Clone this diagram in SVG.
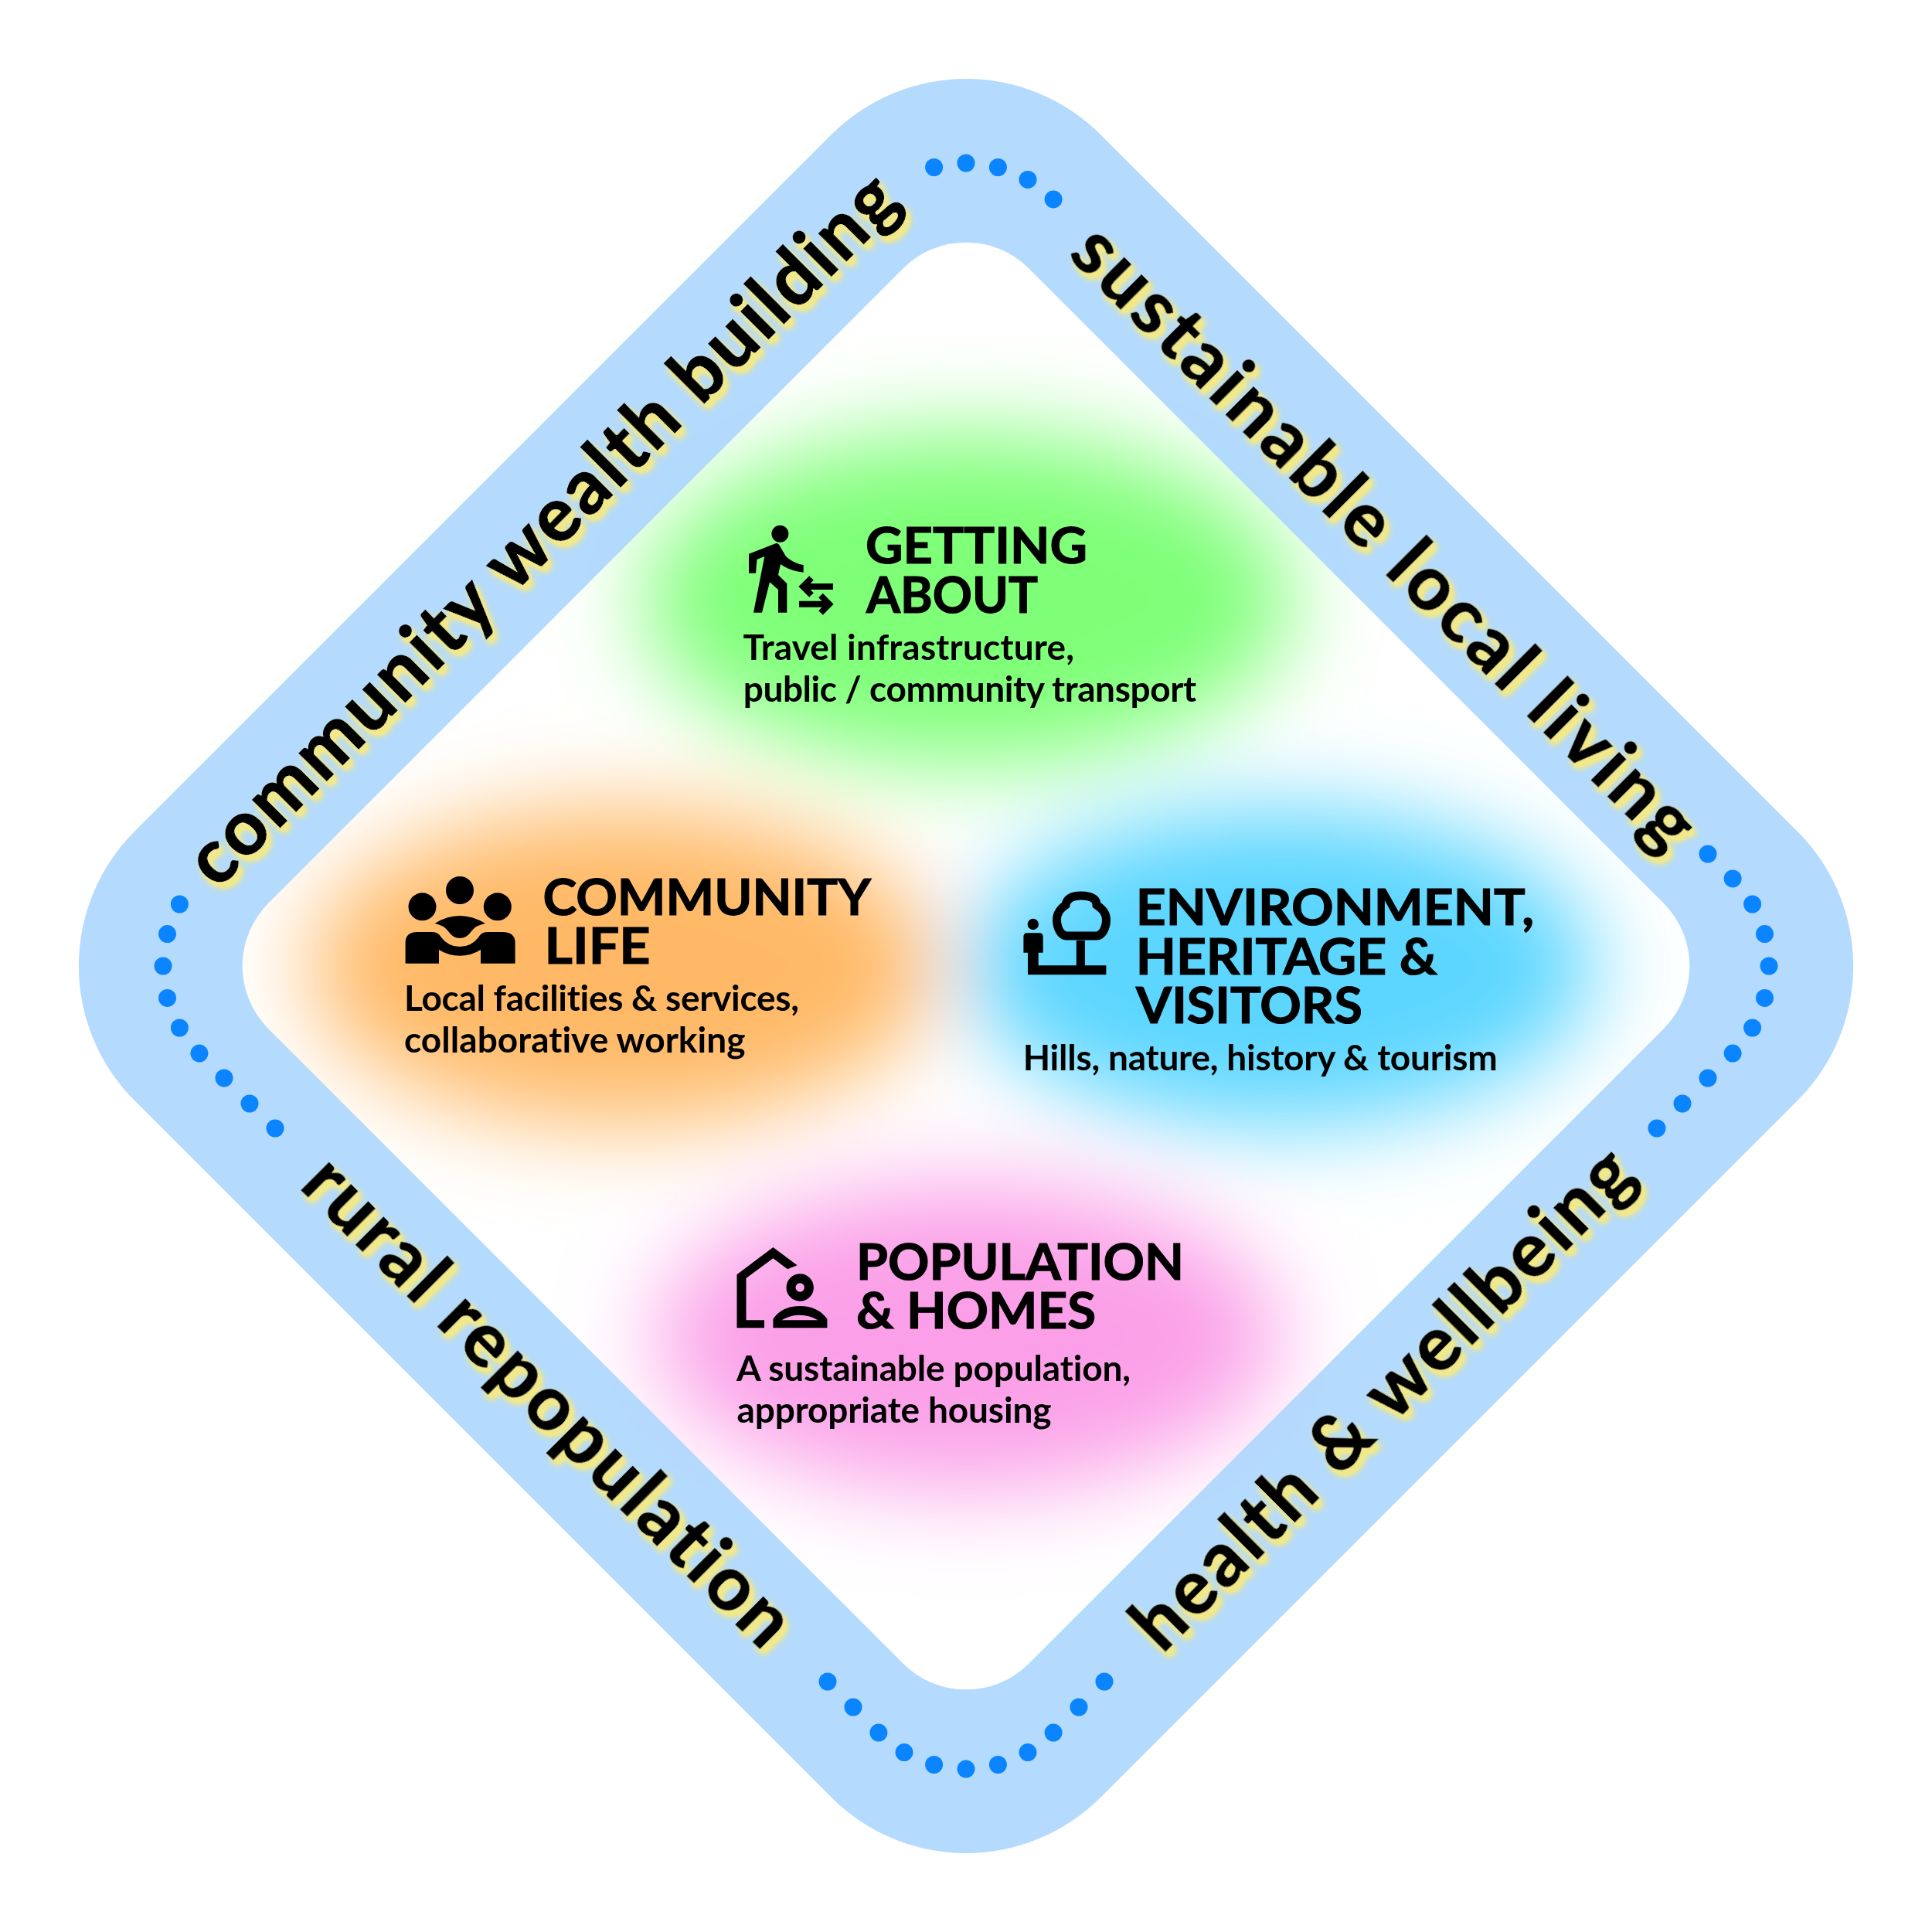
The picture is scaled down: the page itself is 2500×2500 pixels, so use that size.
<svg xmlns="http://www.w3.org/2000/svg" width="2500" height="2500" viewBox="0 0 2500 2500">
<style>
.h{font-family:"Lato","Liberation Sans",sans-serif;font-weight:700;font-size:65px;fill:#000;stroke:#000;stroke-width:1.2}
.b{font-family:"Lato","Liberation Sans",sans-serif;font-weight:700;font-size:46px;fill:#000;font-variant-ligatures:none}
.t{font-family:"Lato","Liberation Sans",sans-serif;font-weight:700;font-size:98px;fill:#000;stroke:#000;stroke-width:1.5;font-variant-ligatures:none}
.d{fill:#0a84ff}
</style>
<defs>
<filter id="blur" x="-40%" y="-60%" width="180%" height="220%"><feGaussianBlur stdDeviation="60"/></filter>
<filter id="glow" x="-5%" y="-5%" width="110%" height="110%">
<feGaussianBlur in="SourceAlpha" stdDeviation="5"/><feOffset dx="5" dy="7"/>
<feComponentTransfer result="a"><feFuncA type="linear" slope="1.8"/></feComponentTransfer>
<feFlood flood-color="#f0e88a"/><feComposite in2="a" operator="in"/>
<feMerge><feMergeNode/><feMergeNode in="SourceGraphic"/></feMerge>
</filter>
</defs>
<rect width="2500" height="2500" fill="#fff"/>
<g id="blobs" filter="url(#blur)">
<ellipse cx="1252" cy="775" rx="420" ry="215" fill="#7fff78"/>
<ellipse cx="805" cy="1251" rx="405" ry="205" fill="#ffb966"/>
<ellipse cx="1658" cy="1251" rx="405" ry="205" fill="#5bd6ff"/>
<ellipse cx="1252" cy="1730" rx="405" ry="198" fill="#fba0e8"/>
</g>
<path id="band" fill="#acd6fd" fill-opacity=".9" fill-rule="evenodd" d="M1076 174A246 246 0 0 1 1424 174L2326 1076A246 246 0 0 1 2326 1424L1424 2326A246 246 0 0 1 1076 2326L174 1424A246 246 0 0 1 174 1076ZM1169 347L347 1169A115 115 0 0 0 347 1331L1169 2153A115 115 0 0 0 1331 2153L2153 1331A115 115 0 0 0 2153 1169L1331 347A115 115 0 0 0 1169 347Z"/>
<g id="dots" class="d">
<circle cx="1208.6" cy="216.5" r="11.5"/><circle cx="1250" cy="211" r="11.5"/><circle cx="1291.4" cy="216.5" r="11.5"/><circle cx="1330" cy="232.4" r="11.5"/><circle cx="1363.1" cy="257.9" r="11.5"/>
<circle cx="2210" cy="1105" r="11.5"/><circle cx="2242.1" cy="1136.9" r="11.5"/><circle cx="2267.6" cy="1170" r="11.5"/><circle cx="2283.5" cy="1208.6" r="11.5"/><circle cx="2289" cy="1250" r="11.5"/><circle cx="2283.5" cy="1291.4" r="11.5"/><circle cx="2267.6" cy="1330" r="11.5"/><circle cx="2242.1" cy="1363.1" r="11.5"/><circle cx="2210" cy="1395" r="11.5"/><circle cx="2177" cy="1428" r="11.5"/><circle cx="2144" cy="1460" r="11.5"/>
<circle cx="1071" cy="2176" r="11.5"/><circle cx="1104" cy="2209" r="11.5"/><circle cx="1136.9" cy="2242.1" r="11.5"/><circle cx="1170" cy="2267.6" r="11.5"/><circle cx="1208.6" cy="2283.5" r="11.5"/><circle cx="1250" cy="2289" r="11.5"/><circle cx="1291.4" cy="2283.5" r="11.5"/><circle cx="1330" cy="2267.6" r="11.5"/><circle cx="1363.1" cy="2242.1" r="11.5"/><circle cx="1396" cy="2209" r="11.5"/><circle cx="1429" cy="2176" r="11.5"/>
<circle cx="232.4" cy="1170" r="11.5"/><circle cx="216.5" cy="1208.6" r="11.5"/><circle cx="211" cy="1250" r="11.5"/><circle cx="216.5" cy="1291.4" r="11.5"/><circle cx="232.4" cy="1330" r="11.5"/><circle cx="257.9" cy="1363.1" r="11.5"/><circle cx="290" cy="1395" r="11.5"/><circle cx="323" cy="1428" r="11.5"/><circle cx="356" cy="1460" r="11.5"/>
</g>
<g id="band-labels" filter="url(#glow)">
<text class="t" transform="translate(281 1152) rotate(-45)" textLength="1256" lengthAdjust="spacing">community wealth building</text>
<text class="t" transform="translate(1381 331) rotate(45)" textLength="1096" lengthAdjust="spacing">sustainable local living</text>
<text class="t" transform="translate(1504 2141) rotate(-45)" textLength="872" lengthAdjust="spacing">health &amp; wellbeing</text>
<text class="t" transform="translate(386 1536) rotate(45)" textLength="850" lengthAdjust="spacing">rural repopulation</text>
</g>
<g id="getting-about">
<circle cx="1009.4" cy="690.7" r="11"/>
<path d="M1003.6 703.3L969 716.7V741.7H978L979.5 724L989.3 720L975 792.7H986L996 753.3L1007 763V792.7H1018.3V755L1007 744L1010 730Q1022 739 1039.7 740.7V731Q1027 729 1017 720L1009.4 707Q1007 702 1003.6 703.3Z"/>
<path d="M1078 759H1040M1050 748L1039 759L1050 770M1034 781.7H1072M1062 770.5L1073 781.7L1062 793" fill="none" stroke="#000" stroke-width="8"/>
<text class="h" x="1120" y="729" textLength="287" lengthAdjust="spacingAndGlyphs">GETTING</text>
<text class="h" x="1121" y="792.7" textLength="222" lengthAdjust="spacingAndGlyphs">ABOUT</text>
<text class="b" x="961.5" y="854" textLength="428.5">Travel infrastructure,</text>
<text class="b" x="961.7" y="907.5" textLength="586.3">public / community transport</text>
</g>
<g id="community-life">
<circle cx="595" cy="1152" r="18"/><circle cx="546.5" cy="1173.3" r="18"/><circle cx="643.8" cy="1173.3" r="18"/>
<path d="M524.6 1246.7V1220Q524.6 1206 540 1206H560Q567 1206 571 1213Q580 1225 595 1225Q610 1225 619 1213Q623 1206 630 1206H650Q666.6 1206 666.6 1220V1246.7H622V1229Q610 1236.7 595 1236.7Q580 1236.7 568 1229V1246.7Z"/>
<path d="M562.6 1195Q578 1185 595 1185Q612 1185 628 1195Q616 1197 610 1205Q604 1214 595 1214Q586 1214 580 1205Q574 1197 562.6 1195Z"/>
<text class="h" x="702.4" y="1184" textLength="424.6" lengthAdjust="spacingAndGlyphs">COMMUNITY</text>
<text class="h" x="704.6" y="1246.7" textLength="137" lengthAdjust="spacingAndGlyphs">LIFE</text>
<text class="b" x="523" y="1308" textLength="511">Local facilities &amp; services,</text>
<text class="b" x="523" y="1361.5" textLength="441.5">collaborative working</text>
</g>
<g id="environment-heritage-visitors">
<circle cx="1336.8" cy="1196" r="7.2"/>
<path d="M1324.4 1232.7V1212Q1324.4 1207.3 1329 1207.3H1345Q1349.7 1207.3 1349.7 1212V1232.7H1343.7V1249.3H1392.8V1217H1403.9V1249.3H1431.4V1261.3H1330V1232.7Z"/>
<path d="M1380 1211H1419C1426 1211 1431.5 1201 1431.5 1190C1431.5 1181 1426 1176 1419 1171C1419 1165 1415 1159 1398.8 1159C1384 1159 1380 1165 1379 1171C1372 1176 1367.5 1181 1367.5 1190C1367.5 1201 1373 1211 1380 1211Z" fill="none" stroke="#000" stroke-width="11"/>
<text class="h" x="1469.7" y="1197.3" textLength="515.3" lengthAdjust="spacingAndGlyphs">ENVIRONMENT,</text>
<text class="h" x="1469.7" y="1260.7" textLength="390" lengthAdjust="spacingAndGlyphs">HERITAGE &amp;</text>
<text class="h" x="1470" y="1324" textLength="293" lengthAdjust="spacingAndGlyphs">VISITORS</text>
<text class="b" x="1323.7" y="1385" textLength="614">Hills, nature, history &amp; tourism</text>
</g>
<g id="population-homes">
<path d="M953.5 1718.3V1649.3L1000.4 1614L1031.6 1637.3L1019 1642.3L1000.4 1628.3L965.5 1654V1708.3H989V1718.3Z"/>
<circle cx="1035.2" cy="1666" r="11.7" fill="none" stroke="#000" stroke-width="12"/>
<path fill-rule="evenodd" d="M1000.4 1718.3V1706.7Q1012 1690 1035.2 1690Q1058 1690 1070.4 1706.7V1718.3ZM1011.5 1708.3H1058.4Q1048 1701.7 1035.2 1701.7Q1022 1701.7 1011.5 1708.3Z"/>
<text class="h" x="1108" y="1656" textLength="424" lengthAdjust="spacingAndGlyphs">POPULATION</text>
<text class="h" x="1108" y="1719" textLength="310" lengthAdjust="spacingAndGlyphs">&amp; HOMES</text>
<text class="b" x="953" y="1787" textLength="510">A sustainable population,</text>
<text class="b" x="953.5" y="1840.5" textLength="407">appropriate housing</text>
</g>
</svg>
